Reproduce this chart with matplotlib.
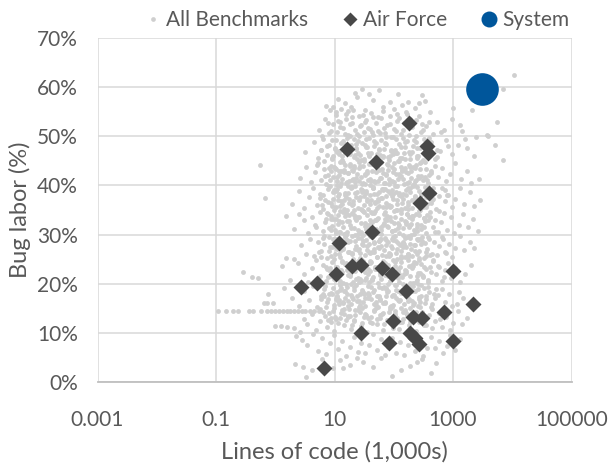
import matplotlib
matplotlib.use("Agg")
import matplotlib.pyplot as plt
from matplotlib.lines import Line2D
from matplotlib.ticker import FixedLocator, NullLocator

plt.rcParams['font.family'] = ['Lato', 'DejaVu Sans']

# ---------------- data (lines of code in 1,000s, bug labor in %) ----------------
af_loc = [181, 16.3, 50, 364, 378, 394, 277, 43, 11.9, 19.7, 28, 10.6, 63, 93, 1000,
          5.07, 2.72, 161, 2178, 705, 97, 211, 300, 28, 83, 188, 228, 267, 1000, 6.65]
af_bug = [52.7, 47.4, 44.8, 48.0, 46.6, 38.5, 36.4, 30.5, 28.3, 23.6, 23.8, 22.0, 23.2, 22.0, 22.6,
          20.1, 19.3, 18.5, 15.9, 14.2, 12.4, 13.2, 13.0, 10.0, 7.9, 10.0, 9.0, 7.7, 8.3, 2.8]

system_loc = [3050]
system_bug = [59.6]

bench_55 = [(7.2, 56.2), (8.4, 55.4), (9.3, 56.0), (11.5, 57.6), (15, 56.8), (17, 55.1), (19, 56.0),
            (22, 58.8), (24, 57.9), (29, 59.6), (38, 58.6), (44, 57.4), (56, 59.4), (65, 56.0),
            (86, 57.0), (100, 55.5), (120, 58.6), (140, 56.3), (175, 57.0), (230, 55.8), (264, 56.8),
            (300, 58.3), (340, 57.2), (410, 55.0), (1000, 55.8), (2100, 55.3), (6900, 59.6),
            (10800, 62.5), (13, 55.6), (33, 55.3)]

bench_50 = [(5.5, 51.2), (6.8, 53.5), (8, 50.6), (9.5, 52.4), (10.5, 54.3), (11, 50.9), (12.5, 53.0),
            (14, 51.7), (15.5, 54.6), (17, 50.3), (18.5, 52.6), (20, 53.9), (22, 51.2), (24, 50.5),
            (26, 54.1), (28, 52.2), (31, 50.8), (34, 53.4), (37, 51.6), (41, 54.7), (45, 50.2),
            (50, 52.8), (55, 51.1), (62, 53.7), (70, 50.7), (78, 52.3), (88, 54.2), (100, 51.4),
            (115, 53.1), (130, 50.4), (150, 52.7), (170, 54.5), (200, 51.8), (240, 53.3), (290, 50.9),
            (350, 52.1), (540, 52.9), (700, 51.3), (960, 53.5), (2400, 49.9), (3700, 50.3),
            (3900, 50.1), (5500, 52.9), (1400, 51.0)]

bench_45 = [(3.2, 46.8), (4.5, 48.9), (5.2, 45.6), (6, 47.3), (6.5, 49.5), (7.5, 46.1), (8.2, 48.2),
            (9, 45.3), (10, 47.7), (10.8, 49.2), (11.8, 46.4), (12.8, 48.6), (13.5, 45.1), (14.8, 47.0),
            (16, 49.7), (17.5, 46.6), (19, 48.3), (21, 45.8), (23, 47.5), (25, 49.1), (27, 46.2),
            (29.5, 48.7), (32, 45.4), (35, 47.9), (38, 49.6), (42, 46.5), (46, 48.1), (51, 45.7),
            (56, 47.4), (61, 49.3), (67, 46.0), (74, 48.5), (82, 45.2), (90, 47.2), (99, 49.8),
            (110, 46.7), (122, 48.4), (136, 45.5), (152, 47.8), (170, 49.0), (190, 46.3), (215, 48.0),
            (245, 45.9), (280, 47.6), (320, 49.4), (370, 46.9), (430, 48.8), (500, 45.3), (600, 47.1),
            (750, 49.2), (950, 46.4), (1200, 48.3), (1700, 47.6), (2300, 46.0), (5200, 48.2),
            (7000, 45.2)]

bench_40 = [(0.55, 44.2), (2.6, 41.5), (3.3, 43.8), (4, 40.6), (4.6, 42.7), (5.3, 44.5), (5.9, 41.2),
            (6.6, 43.3), (7.2, 40.3), (7.9, 42.1), (8.6, 44.0), (9.3, 41.7), (10.1, 43.6), (10.9, 40.8),
            (11.7, 42.9), (12.6, 44.7), (13.6, 41.4), (14.6, 43.1), (15.7, 40.4), (16.9, 42.5),
            (18.2, 44.3), (19.6, 41.1), (21, 43.5), (22.6, 40.7), (24.3, 42.3), (26, 44.8), (28, 41.8),
            (30, 43.9), (32.5, 40.2), (35, 42.6), (37.5, 44.4), (40.5, 41.3), (43.5, 43.0), (47, 40.9),
            (50.5, 42.8), (54.5, 44.6), (59, 41.6), (63.5, 43.4), (68.5, 40.5), (74, 42.2), (80, 44.1),
            (86, 41.0), (93, 43.7), (100, 40.6), (108, 42.4), (117, 44.9), (127, 41.9), (138, 43.2),
            (150, 40.3), (163, 42.7), (178, 44.2), (194, 41.5), (212, 43.8), (232, 40.8), (255, 42.0),
            (280, 44.5), (310, 41.2), (345, 43.3), (385, 40.4), (430, 42.6), (490, 44.0), (560, 41.7),
            (650, 43.5), (760, 40.9), (900, 42.3), (1100, 44.6), (1350, 41.4), (1700, 43.0),
            (2700, 41.3), (2000, 40.5)]

bench_35 = [(0.67, 37.4), (1.9, 36.2), (2.5, 38.8), (3.1, 35.4), (3.7, 37.6), (4.3, 39.5), (5, 36.0),
            (5.6, 38.3), (6.3, 35.2), (7, 37.1), (7.8, 39.2), (8.6, 36.5), (9.5, 38.6), (10.4, 35.7),
            (11.4, 37.9), (12.5, 39.8), (13.6, 36.3), (14.8, 38.1), (16.1, 35.1), (17.5, 37.3),
            (19, 39.4), (20.7, 36.8), (22.5, 38.5), (24.5, 35.5), (26.6, 37.7), (29, 39.1), (31.5, 36.1),
            (34.3, 38.4), (37.3, 35.3), (40.6, 37.0), (44, 39.7), (48, 36.6), (52, 38.2), (57, 35.8),
            (62, 37.5), (67, 39.3), (73, 36.4), (80, 38.9), (87, 35.6), (95, 37.8), (103, 39.9),
            (112, 36.2), (122, 38.0), (133, 35.0), (145, 37.2), (158, 39.0), (172, 36.7), (188, 38.7),
            (205, 35.4), (224, 37.4), (245, 39.6), (268, 36.0), (293, 38.3), (320, 35.9), (350, 37.6),
            (385, 39.2), (425, 36.5), (470, 38.5), (520, 35.3), (580, 37.9), (650, 39.4), (730, 36.8),
            (830, 38.1), (950, 35.7), (1100, 37.3), (1300, 39.5), (1550, 36.3), (1900, 38.6),
            (2300, 35.8), (2900, 37.0)]

bench_30 = [(1.52, 33.8), (2.52, 34.2), (2.1, 31.2), (3, 32.9), (3.6, 30.4), (4.2, 33.5), (4.9, 31.6),
            (5.6, 34.6), (6.3, 30.8), (7, 32.5), (7.8, 34.1), (8.6, 31.0), (9.5, 33.2), (10.5, 30.3),
            (11.5, 32.1), (12.6, 34.8), (13.8, 31.5), (15, 33.7), (16.4, 30.6), (17.9, 32.8),
            (19.5, 34.4), (21.3, 31.3), (23.2, 33.0), (25.3, 30.1), (27.6, 32.3), (30, 34.7),
            (32.8, 31.8), (35.8, 33.9), (39, 30.5), (42.5, 32.6), (46.3, 34.3), (50.5, 31.1), (55, 33.4),
            (60, 30.2), (65.5, 32.0), (71.5, 34.5), (78, 31.7), (85, 33.6), (93, 30.7), (101, 32.4),
            (110, 34.9), (120, 31.4), (131, 33.1), (143, 30.0), (156, 32.7), (170, 34.2), (186, 31.9),
            (203, 33.8), (222, 30.9), (243, 32.2), (265, 34.0), (290, 31.2), (318, 33.3), (348, 30.4),
            (380, 32.9), (415, 34.6), (455, 31.5), (500, 33.0), (560, 30.6), (630, 32.5), (710, 34.3),
            (800, 31.0), (920, 33.6), (1050, 30.3), (1250, 32.0), (1500, 34.1), (1800, 31.6),
            (2200, 33.2), (2600, 30.8)]

bench_25 = [(1.52, 25.2), (2.1, 25.0), (2.7, 27.8), (3.3, 26.1), (3.9, 29.2), (4.5, 25.7), (5.2, 28.4),
            (5.9, 26.6), (6.7, 29.7), (7.5, 25.3), (8.4, 27.5), (9.3, 29.0), (10.3, 26.0), (11.4, 28.2),
            (12.6, 25.5), (13.9, 27.3), (15.3, 29.5), (16.8, 26.4), (18.5, 28.7), (20.3, 25.1),
            (22.3, 27.0), (24.5, 29.3), (26.9, 26.2), (29.5, 28.0), (32.4, 25.8), (35.5, 27.7),
            (39, 29.8), (42.8, 26.5), (47, 28.5), (51.5, 25.4), (56.5, 27.2), (62, 29.1), (68, 26.8),
            (74.5, 28.9), (82, 25.6), (90, 27.6), (98.5, 29.6), (108, 26.3), (118, 28.3), (130, 25.2),
            (142, 27.4), (156, 29.4), (171, 26.0), (188, 28.1), (206, 25.7), (226, 27.9), (248, 29.2),
            (272, 26.7), (298, 28.6), (327, 25.3), (360, 27.1), (395, 29.0), (435, 26.1), (480, 28.4),
            (530, 25.9), (590, 27.6), (660, 29.5), (740, 26.5), (840, 28.0), (960, 25.4), (1100, 27.3),
            (1300, 29.7), (1550, 26.9), (1900, 28.5), (2300, 27.2)]

bench_20 = [(0.286, 22.4), (0.41, 21.4), (0.51, 21.2), (1.3, 23.6), (1.8, 20.8), (2.4, 24.2), (3, 22.0),
            (3.6, 20.3), (4.2, 23.1), (4.9, 24.8), (5.6, 21.5), (6.4, 23.8), (7.2, 20.6), (8.1, 22.7),
            (9, 24.5), (10, 21.2), (11.1, 23.4), (12.3, 20.1), (13.6, 22.3), (15, 24.0), (16.6, 21.7),
            (18.3, 23.6), (20.2, 20.4), (22.3, 22.5), (24.6, 24.7), (27.1, 21.0), (29.9, 23.2),
            (33, 20.7), (36.4, 22.9), (40.1, 24.3), (44.2, 21.4), (48.7, 23.5), (53.7, 20.2),
            (59.2, 22.1), (65.3, 24.6), (72, 21.8), (79.4, 23.9), (87.5, 20.5), (96.5, 22.6), (106, 24.4),
            (117, 21.1), (129, 23.3), (142, 20.0), (157, 22.8), (173, 24.9), (191, 21.6), (211, 23.7),
            (233, 20.3), (257, 22.2), (283, 24.1), (312, 21.3), (344, 23.0), (380, 20.8), (420, 22.4),
            (465, 24.6), (515, 21.9), (575, 23.4), (640, 20.6), (720, 22.7), (820, 24.2), (940, 21.2),
            (1100, 23.1), (1300, 20.4), (1600, 22.0), (2000, 23.8)]

bench_15 = [(0.65, 16.0), (0.72, 16.1), (0.75, 17.9), (0.93, 16.1), (1.4, 19.2), (1.9, 17.0), (2.5, 15.5),
            (3.1, 18.6), (3.7, 16.6), (4.4, 19.5), (5.1, 15.2), (5.9, 17.6), (6.7, 19.0), (7.6, 16.3),
            (8.6, 18.2), (9.7, 15.7), (10.9, 17.3), (12.2, 19.7), (13.7, 16.0), (15.3, 18.5),
            (17.1, 15.4), (19.1, 17.8), (21.3, 19.3), (23.8, 16.5), (26.5, 18.0), (29.5, 15.1),
            (32.9, 17.1), (36.7, 19.6), (40.9, 16.8), (45.6, 18.8), (50.8, 15.6), (56.6, 17.5), (63, 19.1),
            (70, 16.2), (78, 18.4), (87, 15.3), (97, 17.7), (108, 19.8), (120, 16.7), (134, 18.1),
            (149, 15.8), (166, 17.2), (185, 19.4), (206, 16.4), (230, 18.6), (256, 15.5), (285, 17.4),
            (318, 19.2), (355, 16.9), (395, 18.3), (440, 15.9), (490, 17.0), (560, 17.7), (640, 19.0),
            (730, 16.3), (840, 18.0), (960, 15.4), (1150, 15.9), (1250, 18.3), (1500, 17.0)]

bench_row_14 = [(0.109, 14.5), (0.146, 14.5), (0.191, 14.5), (0.232, 14.5), (0.365, 14.5), (0.416, 14.5),
                (0.568, 14.5), (0.735, 14.5), (0.838, 14.5), (1.0, 14.5), (1.17, 14.5), (1.37, 14.5),
                (1.56, 14.5), (1.77, 14.5), (2.07, 14.5), (2.45, 14.5), (2.79, 14.5), (3.2, 14.5),
                (3.8, 14.5), (4.5, 14.5), (5.5, 14.5)]

bench_10 = [(1.0, 11.4), (1.25, 11.3), (1.6, 11.2), (2.1, 10.9), (2.6, 10.1), (3.0, 12.9), (3.5, 11.8),
            (4.1, 13.8), (4.8, 10.6), (5.6, 12.4), (6.5, 14.2), (7.5, 11.1), (8.6, 13.1), (9.9, 10.3),
            (11.3, 12.0), (12.9, 14.0), (14.7, 11.6), (16.7, 13.5), (19, 10.8), (21.6, 12.7),
            (24.5, 14.6), (27.8, 11.3), (31.5, 13.3), (35.7, 10.2), (40.5, 12.2), (46, 14.4), (52, 11.9),
            (59, 13.7), (67, 10.5), (76, 12.6), (86, 14.8), (97, 11.0), (110, 13.0), (125, 10.7),
            (142, 12.8), (161, 14.1), (183, 11.5), (208, 13.4), (236, 10.4), (268, 12.3), (304, 14.3),
            (345, 11.7), (392, 13.6), (445, 10.9), (505, 12.5), (580, 14.0), (660, 11.2), (760, 13.2),
            (880, 10.6), (1000, 12.1), (1200, 14.5), (1400, 11.8), (1700, 13.0)]

bench_05 = [(2.2, 9.3), (2.8, 8.6), (3.4, 7.6), (4.4, 9.7), (5.2, 6.4), (6.2, 8.9), (7.3, 5.6), (8.5, 7.9),
            (9.8, 9.5), (11.5, 6.8), (13.4, 8.4), (15.5, 5.3), (18, 7.2), (21, 9.2), (24.5, 6.1),
            (28.5, 8.0), (33, 5.8), (38.5, 7.5), (45, 9.8), (52, 6.6), (60, 8.7), (70, 5.4), (81, 7.1),
            (94, 9.0), (109, 6.0), (127, 8.2), (148, 5.5), (172, 7.6), (200, 9.4), (232, 6.3), (270, 8.5),
            (315, 5.2), (365, 7.0), (425, 9.1), (495, 6.9), (575, 8.3), (670, 5.9), (780, 7.4),
            (900, 9.6), (1100, 6.5), (1300, 8.8)]

bench_00 = [(2.16, 3.7), (2.9, 3.1), (3.3, 1.0), (4.1, 2.5), (6.2, 4.6), (9.5, 2.8), (12.4, 4.4), (14, 2.8),
            (18, 3.4), (24, 4.9), (30, 4.1), (45, 3.0), (60, 4.8), (95, 1.3), (130, 2.4), (190, 3.3),
            (250, 4.0), (300, 4.6), (420, 1.8), (520, 3.9)]

bench_core_40s = [(8.3, 41.2), (9.1, 45.6), (9.9, 39.0), (10.8, 43.4), (11.8, 47.1), (12.9, 40.5),
                  (14.0, 44.8), (15.3, 38.4), (16.7, 42.6), (18.2, 46.3), (19.8, 39.7), (21.6, 43.9),
                  (23.5, 47.6), (25.6, 41.0), (27.9, 45.1), (30.4, 38.8), (33.1, 42.2), (36.1, 46.7),
                  (39.4, 40.1), (42.9, 44.3), (46.8, 38.2), (51, 42.9), (55.6, 47.3), (60.6, 41.5),
                  (66, 45.8), (72, 39.3), (78.5, 43.1), (85.5, 46.0), (93.2, 40.8), (101, 44.6),
                  (111, 38.6), (121, 42.4), (132, 47.8), (144, 41.3), (157, 45.3), (171, 39.5),
                  (186, 43.7), (203, 46.9), (221, 40.2), (241, 44.1), (263, 38.9), (287, 42.0),
                  (8.8, 43.0), (10.2, 47.4), (11.1, 41.8), (12.1, 38.3), (13.2, 45.9), (14.4, 42.7),
                  (15.7, 47.0), (17.1, 39.9), (18.6, 44.0), (20.3, 41.4), (22.1, 46.2), (24.1, 38.7),
                  (26.3, 43.5), (28.6, 40.3), (31.2, 45.0), (34, 47.9), (37.1, 41.1), (40.4, 38.1),
                  (44.1, 44.5), (48, 40.6), (52.4, 46.4), (57.1, 43.2), (62.2, 39.2), (67.8, 47.5),
                  (73.9, 42.3), (80.6, 45.7), (87.8, 38.5), (95.7, 42.8), (104, 47.2), (114, 39.8),
                  (124, 44.9), (135, 41.9), (148, 46.5), (161, 38.0), (176, 42.5), (191, 45.4),
                  (209, 40.0), (228, 43.6), (248, 47.7), (270, 41.6), (310, 45.2), (340, 39.6)]

bench_core_30s = [(8.1, 31.4), (8.9, 35.8), (9.7, 29.0), (10.6, 33.2), (11.6, 37.1), (12.6, 30.5),
                  (13.8, 34.6), (15, 28.4), (16.4, 32.7), (17.9, 36.4), (19.5, 29.8), (21.2, 33.9),
                  (23.1, 37.6), (25.2, 31.0), (27.5, 35.2), (30, 28.7), (32.7, 32.3), (35.6, 36.8),
                  (38.8, 30.2), (42.3, 34.3), (46.1, 28.2), (50.3, 32.9), (54.8, 37.3), (59.8, 31.6),
                  (65.1, 35.7), (71, 29.3), (77.4, 33.0), (84.4, 36.1), (92, 30.8), (100, 34.7),
                  (109, 28.6), (119, 32.4), (130, 37.8), (142, 31.3), (155, 35.4), (169, 29.5),
                  (184, 33.6), (200, 37.0), (218, 30.1), (238, 34.1), (259, 28.9), (283, 32.0),
                  (8.6, 33.1), (9.4, 37.3), (10.3, 30.9), (11.2, 28.3), (12.2, 35.9), (13.3, 32.6),
                  (14.5, 37.0), (15.8, 29.9), (17.3, 34.0), (18.8, 31.4), (20.5, 36.2), (22.4, 28.7),
                  (24.4, 33.5), (26.6, 30.3), (29, 35.0), (31.6, 37.9), (34.4, 31.1), (37.5, 28.1),
                  (40.9, 34.5), (44.6, 30.6), (48.6, 36.4), (53, 33.2), (57.7, 29.2), (62.9, 37.5),
                  (68.6, 32.3), (74.8, 35.6), (81.5, 28.5), (88.8, 32.8), (96.8, 37.2), (105.5, 29.7),
                  (115, 34.9), (125, 31.9), (137, 36.5), (149, 28.0), (162, 32.5), (177, 35.3),
                  (193, 30.0), (210, 33.7), (229, 37.7), (250, 31.5), (275, 35.1), (300, 29.6),
                  (330, 33.4), (370, 36.3)]

bench_core_20s = [(7.9, 21.3), (8.7, 25.7), (9.5, 19.1), (10.4, 23.3), (11.3, 27.2), (12.4, 20.6),
                  (13.5, 24.7), (14.7, 18.5), (16.1, 22.8), (17.5, 26.5), (19.1, 19.9), (20.8, 24.0),
                  (22.7, 27.7), (24.7, 21.1), (27, 25.3), (29.4, 18.8), (32.1, 22.4), (35, 26.9),
                  (38.1, 20.3), (41.5, 24.4), (45.3, 18.3), (49.4, 23.0), (53.8, 27.4), (58.7, 21.7),
                  (64, 25.8), (69.8, 19.4), (76.1, 23.1), (83, 26.2), (90.5, 20.9), (98.7, 24.8),
                  (108, 18.7), (117, 22.5), (128, 27.9), (139, 21.4), (152, 25.5), (166, 19.6),
                  (181, 23.7), (197, 27.1), (215, 20.2), (234, 24.2), (256, 19.0), (279, 22.1),
                  (8.3, 23.2), (9.1, 27.4), (9.9, 21.0), (10.9, 18.4), (11.8, 26.0), (12.9, 22.7),
                  (14.1, 27.1), (15.4, 20.0), (16.8, 24.1), (18.3, 21.5), (19.9, 26.3), (21.7, 18.8),
                  (23.7, 23.6), (25.8, 20.4), (28.2, 25.1), (30.7, 27.8), (33.5, 21.2), (36.5, 18.2),
                  (39.8, 24.6), (43.4, 20.7), (47.3, 26.5), (51.6, 23.3), (56.2, 19.3), (61.3, 27.6),
                  (66.8, 22.4), (72.8, 25.7), (79.4, 18.6), (86.6, 22.9), (94.4, 27.3), (103, 19.8),
                  (112, 25.0), (122, 22.0), (133, 26.6), (145, 18.1), (158, 22.6), (172, 25.4),
                  (188, 20.1), (205, 23.8), (223, 27.8), (243, 21.6), (265, 25.2), (290, 19.7),
                  (320, 23.5), (355, 26.4)]

bench_core_10s = [(6.8, 13.4), (7.7, 16.8), (8.7, 12.3), (9.8, 15.1), (11, 17.6), (12.4, 13.0), (14, 16.2),
                  (15.8, 12.6), (17.8, 14.8), (20.1, 17.3), (22.6, 13.7), (25.5, 16.5), (28.7, 12.1),
                  (32.4, 15.4), (36.5, 17.9), (41.1, 13.2), (46.4, 15.9), (52.3, 12.8), (59, 16.9),
                  (66.5, 14.1), (75, 17.4), (84.5, 12.4), (95.3, 15.6), (107, 13.5), (121, 16.4),
                  (136, 12.2), (154, 14.6), (173, 17.1), (195, 13.9), (220, 16.0), (248, 12.7),
                  (280, 15.2), (7.2, 15.3), (8.2, 17.9), (9.3, 14.4), (10.4, 12.9), (11.7, 16.6),
                  (13.2, 14.7), (14.9, 17.0), (16.8, 13.3), (18.9, 15.8), (21.3, 12.5), (24, 17.5),
                  (27, 14.2), (30.5, 16.3), (34.4, 13.6), (38.8, 17.7), (43.7, 12.0), (49.3, 15.0),
                  (55.6, 17.2), (62.7, 13.8), (70.7, 16.1), (79.7, 12.6), (89.9, 15.5), (101, 17.8),
                  (114, 13.1), (129, 16.7), (145, 14.3), (164, 17.5), (185, 12.3), (208, 15.7),
                  (235, 13.4), (265, 16.8), (300, 14.0)]

bench_core_upper = [(6.2, 50.1), (7.7, 52.8), (9.2, 49.3), (10.7, 54.9), (12.2, 51.9), (13.8, 48.9),
                    (15.9, 53.6), (18.1, 50.0), (20.6, 55.3), (23.4, 48.4), (26.7, 52.0), (30.3, 54.4),
                    (34.5, 49.4), (39.2, 51.5), (44.6, 53.9), (50.7, 48.6), (57.7, 50.6), (65.6, 55.1),
                    (74.6, 49.9), (84.9, 52.5), (96.5, 47.0), (110, 51.0), (125, 53.8), (142, 49.6),
                    (161, 55.0), (183, 50.2), (208, 52.9), (237, 48.8), (270, 54.1), (307, 51.2),
                    (350, 49.1), (400, 53.0), (460, 50.4), (530, 47.3), (620, 50.8), (820, 48.0),
                    (1300, 52.2), (1600, 49.5),
                    (8.6, 51.0), (11.6, 53.2), (14.9, 50.4), (19.5, 52.7), (25.5, 50.1), (32.9, 53.0),
                    (42.5, 50.8), (54.2, 54.0), (69, 51.6), (88.4, 49.8), (113, 54.5), (145, 51.3),
                    (186, 53.6), (238, 50.0), (305, 52.4), (390, 49.6)]

bench_core_mixed = [(5.1, 44.1), (6.9, 41.9), (9.6, 46.0), (13.1, 43.0), (17.8, 40.9), (24.2, 45.4),
                    (33, 42.4), (45, 39.4), (61.4, 44.8), (83.7, 41.3), (114, 46.6), (156, 43.5),
                    (212, 39.9), (289, 44.7), (395, 42.1), (540, 45.8), (740, 39.1),
                    (5.6, 37.5), (7.6, 34.4), (10.4, 38.9), (14.2, 35.3), (19.3, 39.6), (26.3, 33.6),
                    (35.9, 37.2), (48.9, 34.8), (66.7, 39.1), (91, 35.9), (124, 38.4), (169, 34.2),
                    (231, 37.9), (315, 35.6), (430, 39.0), (590, 34.7), (800, 38.0),
                    (4.7, 31.9), (6.4, 29.4), (8.7, 33.7), (11.9, 30.6), (16.2, 28.8), (22.1, 33.3),
                    (30.1, 29.9), (41, 32.6), (55.9, 28.6), (76.2, 33.8), (104, 30.9), (142, 28.4),
                    (193, 32.2), (263, 29.1), (359, 33.9), (490, 30.5), (670, 29.2),
                    (5.4, 26.4), (7.3, 23.3), (10, 27.6), (13.6, 24.4), (18.5, 21.9), (25.2, 26.8),
                    (34.4, 23.9), (46.9, 27.1), (63.9, 22.8), (87.1, 26.1), (119, 23.0), (162, 27.5),
                    (221, 24.5), (301, 21.7), (410, 25.9), (560, 23.6), (760, 26.2),
                    (4.9, 20.2), (6.7, 17.6), (9.1, 21.8), (12.4, 18.7), (16.9, 16.4), (23, 20.9),
                    (31.4, 17.9), (42.8, 21.0), (58.3, 16.6), (79.5, 20.0), (108, 17.0), (148, 21.9),
                    (201, 18.5), (274, 16.2), (374, 20.3), (510, 18.9), (700, 21.4),
                    (5.8, 14.9), (7.9, 12.7), (10.8, 16.9), (14.7, 13.9), (20, 11.6), (27.3, 15.7),
                    (37.2, 13.0), (50.7, 16.2), (69.1, 11.9), (94.2, 15.2), (128, 12.2), (175, 16.5),
                    (239, 13.7), (326, 11.5), (444, 14.9), (606, 12.9),
                    (5.9, 47.2), (8.0, 43.6), (11.0, 40.0), (15.0, 46.8), (20.4, 42.9), (27.8, 39.2),
                    (37.9, 46.1), (51.7, 43.7), (70.4, 40.4), (96, 46.3), (131, 43.8), (179, 40.7),
                    (244, 45.6), (333, 41.8), (455, 39.5),
                    (6.1, 36.0), (8.3, 39.8), (11.3, 33.9), (15.4, 37.7), (21, 34.9), (28.6, 38.7),
                    (39, 32.9), (53.2, 36.9), (72.5, 33.2), (98.9, 38.2), (135, 35.2), (184, 31.6),
                    (251, 36.6), (342, 32.8), (467, 37.3),
                    (6.0, 25.5), (8.2, 29.6), (11.2, 27.0), (15.2, 30.2), (20.7, 24.9), (28.3, 29.3),
                    (38.5, 26.5), (52.5, 30.4), (71.6, 24.2), (97.6, 28.9), (133, 25.6), (181, 29.8),
                    (247, 26.0), (337, 28.2), (460, 24.8),
                    (6.3, 18.0), (8.6, 21.5), (11.7, 15.9), (16, 19.3), (21.8, 14.7), (29.7, 18.4),
                    (40.5, 22.6), (55.2, 15.2), (75.3, 19.0), (103, 14.4), (140, 18.8), (191, 15.1),
                    (260, 19.9), (355, 17.5)]

bench_dense_40s = [(6.6, 45.0), (7.4, 48.1), (8.1, 39.9), (9.7, 43.8), (10.9, 46.9), (12.0, 42.2),
                   (13.9, 49.0), (15.1, 44.2), (16.2, 40.7), (17.7, 47.4), (19.4, 43.2), (21.3, 49.5),
                   (23.0, 41.6), (25.1, 46.6), (27.4, 44.0), (29.9, 40.4), (32.6, 48.3), (35.4, 43.0),
                   (38.6, 45.9), (42.1, 41.0), (45.8, 49.0), (49.9, 44.5), (54.3, 40.8), (59.3, 46.1),
                   (64.6, 42.6), (70.5, 48.6), (76.8, 44.4), (83.7, 40.3), (91.3, 47.0), (99.5, 43.4),
                   (108.5, 49.4), (118, 41.4), (129, 45.5), (140, 42.9), (153, 48.8), (167, 40.5),
                   (182, 46.8), (198, 43.0), (216, 49.2), (236, 41.1), (257, 46.0), (280, 43.3),
                   (305, 48.0), (333, 44.8), (363, 41.2), (396, 47.3), (432, 43.0)]

bench_dense_30s = [(6.5, 38.1), (7.2, 33.2), (7.9, 36.6), (9.0, 31.8), (9.9, 35.0), (10.9, 39.2),
                   (11.9, 32.8), (13.0, 36.9), (14.2, 30.1), (15.5, 34.3), (16.9, 38.4), (18.4, 32.0),
                   (20.1, 36.0), (21.9, 39.9), (23.9, 33.3), (26.0, 37.1), (28.4, 30.6), (31.0, 34.6),
                   (33.8, 38.9), (36.8, 31.9), (40.1, 36.3), (43.8, 39.5), (47.7, 33.0), (52.0, 35.5),
                   (56.7, 38.6), (61.8, 30.9), (67.4, 34.1), (73.5, 37.9), (80.1, 31.5), (87.3, 35.8),
                   (95.2, 39.0), (104, 33.6), (113, 37.0), (123, 30.4), (134, 34.4), (146, 38.3),
                   (160, 32.1), (174, 36.0), (190, 39.4), (207, 33.1), (225, 36.7), (246, 30.7),
                   (268, 34.8), (292, 38.0), (318, 31.6), (347, 35.7), (378, 39.6), (412, 33.5),
                   (450, 37.0)]

bench_dense_20s = [(6.7, 28.1), (7.4, 23.0), (8.1, 26.6), (8.9, 21.8), (9.8, 25.0), (10.8, 29.2),
                   (11.8, 22.8), (12.9, 26.9), (14.1, 20.1), (15.4, 24.3), (16.8, 28.4), (18.3, 22.0),
                   (20.0, 26.0), (21.8, 29.9), (23.8, 23.3), (25.9, 27.1), (28.3, 20.6), (30.8, 24.6),
                   (33.6, 28.9), (36.6, 21.9), (39.9, 26.3), (43.5, 29.5), (47.5, 23.0), (51.7, 25.5),
                   (56.4, 28.6), (61.5, 20.9), (67.0, 24.1), (73.1, 27.9), (79.6, 21.5), (86.8, 25.8),
                   (94.6, 29.0), (103, 23.6), (112.5, 27.0), (122.6, 20.4), (133.6, 24.4), (145.7, 28.3),
                   (158.8, 22.1), (173, 26.0), (188.6, 29.4), (205.6, 23.1), (224, 26.7), (244, 20.7),
                   (266, 24.8), (290, 28.0), (316, 21.6), (345, 25.7), (376, 29.6), (410, 23.5)]

bench_dense_10s = [(6.0, 16.9), (7.0, 19.6), (8.0, 14.0), (9.0, 17.9), (10.1, 13.2), (11.4, 16.4),
                   (12.8, 19.1), (14.3, 14.9), (16.1, 18.0), (18.1, 13.5), (20.4, 16.8), (22.9, 19.8),
                   (25.7, 15.3), (28.9, 18.3), (32.5, 13.8), (36.6, 17.0), (41.1, 19.4), (46.2, 14.6),
                   (52, 17.6), (58.4, 13.0), (65.7, 16.0), (73.9, 19.2), (83.1, 14.3), (93.4, 17.4),
                   (105, 13.9), (118, 18.6), (133, 15.0), (149, 19.0), (168, 13.6), (189, 16.6),
                   (212, 19.6), (239, 14.2), (269, 17.3), (302, 13.1), (340, 16.1), (380, 19.3),
                   (430, 15.2), (480, 17.9)]

x_ticks = [0.001, 0.1, 10, 1000, 100000]
x_tick_labels = ['0.001', '0.1', '10', '1000', '100000']
y_ticks = [0, 10, 20, 30, 40, 50, 60, 70]
y_tick_labels = ['0%', '10%', '20%', '30%', '40%', '50%', '60%', '70%']

# ---------------- figure ----------------
W, H = 610, 466
fig = plt.figure(figsize=(W / 100, H / 100), dpi=100)
ax = fig.add_axes([97.5 / W, (H - 382) / H, 474 / W, 344 / H])

bench_all = (bench_55 + bench_50 + bench_45 + bench_40 + bench_35 + bench_30 + bench_25 + bench_20 +
             bench_15 + bench_row_14 + bench_10 + bench_05 + bench_00 +
             bench_core_40s + bench_core_30s + bench_core_20s + bench_core_10s +
             bench_core_upper + bench_core_mixed +
             bench_dense_40s + bench_dense_30s + bench_dense_20s + bench_dense_10s)
bench_loc = [p[0] for p in bench_all]
bench_bug = [p[1] for p in bench_all]

gray = '#cfcfcf'
dark = '#484848'
blue = '#00569b'
txt = '#595959'

ax.plot(bench_loc, bench_bug, ls='', marker='o', ms=3.5, color=gray, mec='none', zorder=2)
ax.plot(af_loc, af_bug, ls='', marker='D', ms=8.6, color=dark, mec='none', zorder=3)
ax.plot(system_loc, system_bug, ls='', marker='o', ms=23.5, color=blue, mec='none', zorder=4)

ax.set_xscale('log')
ax.set_xlim(0.001, 100000)
ax.set_ylim(0, 70)
ax.xaxis.set_major_locator(FixedLocator(x_ticks))
ax.xaxis.set_minor_locator(NullLocator())
ax.set_xticks(x_ticks)
ax.set_xticklabels(x_tick_labels)
ax.set_yticks(y_ticks)
ax.set_yticklabels(y_tick_labels)

ax.grid(True, color='#d9d9d9', lw=1.1, zorder=0)
ax.set_axisbelow(True)
for s in ['top', 'right', 'left']:
    ax.spines[s].set_visible(False)
ax.spines['bottom'].set_color('#bfbfbf')
ax.spines['bottom'].set_linewidth(1.3)
ax.tick_params(axis='both', length=0, labelsize=15, labelcolor=txt)
ax.tick_params(axis='x', pad=20)
ax.tick_params(axis='y', pad=14)

fig.text(334.5 / W, 1 - 452 / H, 'Lines of code (1,000s)', ha='center', va='center',
         fontsize=17, color=txt)
fig.text(20 / W, 1 - 210 / H, 'Bug labor (%)', ha='center', va='center', rotation=90,
         fontsize=17, color=txt)

handles = [Line2D([], [], ls='', marker='o', ms=3.4, color=gray, mec='none'),
           Line2D([], [], ls='', marker='D', ms=6.8, color=dark, mec='none'),
           Line2D([], [], ls='', marker='o', ms=11.5, color=blue, mec='none')]
leg = fig.legend(handles, ['All Benchmarks', 'Air Force', 'System'], loc='center',
                 bbox_to_anchor=(357 / W, 1 - 20 / H), ncol=3, frameon=False, fontsize=15,
                 handlelength=0.8, handletextpad=0.25, columnspacing=1.6, borderaxespad=0,
                 borderpad=0)
for t in leg.get_texts():
    t.set_color(txt)

fig.savefig('out.png', dpi=100)
